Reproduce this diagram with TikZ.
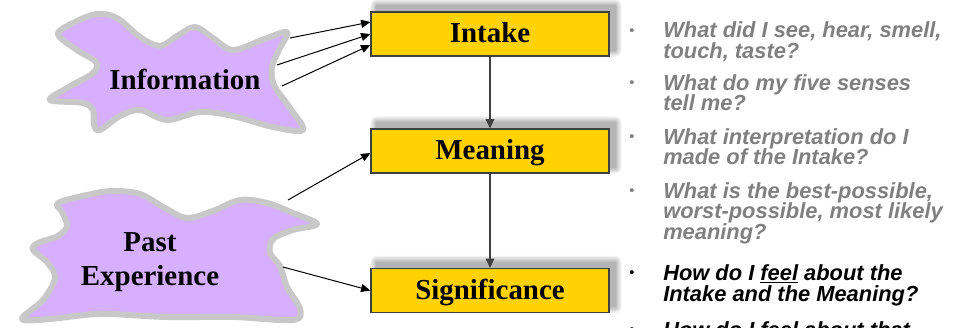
\documentclass[tikz,border=0pt]{standalone}
\usepackage{fontspec}
\setmainfont{Liberation Serif}
\newfontfamily\qfont{Liberation Sans}
\usetikzlibrary{arrows.meta,calc}
\pgfdeclarelayer{bg}
\pgfsetlayers{bg,main}

\definecolor{boxgold}{RGB}{255,210,0}
\definecolor{boxedge}{RGB}{64,64,64}
\definecolor{blobfill}{RGB}{214,175,255}
\definecolor{blobedge}{RGB}{200,200,200}
\definecolor{qgray}{RGB}{128,128,128}

\tikzset{
  stage/.style={draw=boxedge, line width=0.9pt, fill=boxgold,
    minimum width=178.5pt, minimum height=33pt, inner sep=0pt,
    font=\fontsize{21.7}{26}\selectfont\bfseries,
    text height=15.6pt, text depth=2.2pt},
  blob/.style={draw=blobedge, fill=blobfill, line width=4.5pt, line join=round},
  blobtext/.style={font=\fontsize{21.7}{26}\selectfont\bfseries, align=center, inner sep=0pt},
  feed/.style={-{Triangle[length=7pt,width=6pt]}, line width=0.75pt, draw=black},
  flow/.style={-{Triangle[length=7pt,width=6.5pt]}, line width=0.9pt, draw=boxedge},
  qline/.style={anchor=base west, inner sep=0pt,
    font=\qfont\fontsize{16.4}{20}\selectfont\bfseries\itshape},
  qbullet/.style={inner sep=0pt, font=\qfont\fontsize{11}{12}\selectfont},
}

\begin{document}
\begin{tikzpicture}[x=0.75pt, y=-0.75pt]
  \useasboundingbox (0,0) rectangle (963,328);
  \clip (0,0) rectangle (963,328);

  % cloud-like source shapes
  \draw[blob] plot[smooth cycle, tension=0.55] coordinates {
    (58,34) (75,22) (97,14) (117,18) (140,37) (160,46) (177,36) (195,27)
    (213,38) (233,50) (262,40) (287,32) (279,50) (272,67) (274,85) (290,108)
    (303,130) (273,127) (233,116) (200,112) (167,120) (140,110) (120,116)
    (100,130) (94,125) (93,110) (83,103) (50,100) (67,88) (93,73) (96,62) (77,50)};
  \node[blobtext] (info) at (185,79) {Information};

  \draw[blob] plot[smooth cycle, tension=0.55] coordinates {
    (58,203) (87,195) (112,191) (140,194) (165,208) (187,218) (213,211)
    (240,200) (267,203) (293,213) (317,224) (293,230) (273,239) (270,253)
    (280,266) (287,287) (300,309) (293,320) (233,317) (167,317) (100,314)
    (50,319) (22,319) (43,300) (55,278) (47,262) (33,250) (38,243) (58,236)
    (67,226) (62,212)};
  \node[blobtext] (past) at (150,262) {Past\\Experience};

  % stage boxes
  \node[stage] (intake)  at (490,34)    {Intake};
  \node[stage] (meaning) at (490,151)   {Meaning};
  \node[stage] (signif)  at (490,290.5) {Significance};

  % soft drop shadows behind the boxes
  \begin{pgfonlayer}{bg}
    \foreach \b in {intake,meaning,signif}{
      \foreach \k in {0,...,5}{
        \fill[black, opacity=0.055, rounded corners=\k pt]
          ($(\b.south west)+(6-1.2*\k,-6+1.2*\k)$) rectangle
          ($(\b.north east)+(6+1.2*\k,-6-1.2*\k)$);
      }
    }
  \end{pgfonlayer}

  % connectors
  \coordinate (i1) at (290,38);
  \coordinate (i2) at (277,65);
  \coordinate (i3) at (282,86);
  \coordinate (p1) at (288,200);
  \coordinate (p2) at (283,267);
  \draw[feed] (i1) -- ([yshift=9pt]intake.west);
  \draw[feed] (i2) -- (intake.west);
  \draw[feed] (i3) -- ([yshift=-8.25pt]intake.west);
  \draw[feed] (p1) -- ([yshift=-1.5pt]meaning.west);
  \draw[feed] (p2) -- (signif.west);
  \draw[flow] (intake.south) -- (meaning.north);
  \draw[flow] (meaning.south) -- (signif.north);

  % question list
  \begin{scope}[text=qgray]
    \node[qbullet] (b1) at (632,32)  {•};
    \node[qline] (q1a) at (663,38)    {What did I see, hear, smell,};
    \node[qline] (q1b) at (663,58.5)  {touch, taste?};
    \node[qbullet] (b2) at (632,84)  {•};
    \node[qline] (q2a) at (663,90)    {What do my five senses};
    \node[qline] (q2b) at (663,110.5) {tell me?};
    \node[qbullet] (b3) at (632,138) {•};
    \node[qline] (q3a) at (663,144)   {What interpretation do I};
    \node[qline] (q3b) at (663,164.5) {made of the Intake?};
    \node[qbullet] (b4) at (632,192) {•};
    \node[qline] (q4a) at (663,198)   {What is the best-possible,};
    \node[qline] (q4b) at (663,218.5) {worst-possible, most likely};
    \node[qline] (q4c) at (663,239)   {meaning?};
  \end{scope}
  \begin{scope}[text=black]
    \node[qbullet] (b5) at (632,274.5) {•};
    \node[qline] (q5a) at (663,280.5) {How do I \underline{feel} about the};
    \node[qline] (q5b) at (663,301)   {Intake and the Meaning?};
    \node[qbullet] (b6) at (632,331) {•};
    \node[qline] (q6a) at (663,337)   {How do I feel about that};
  \end{scope}
\end{tikzpicture}
\end{document}
